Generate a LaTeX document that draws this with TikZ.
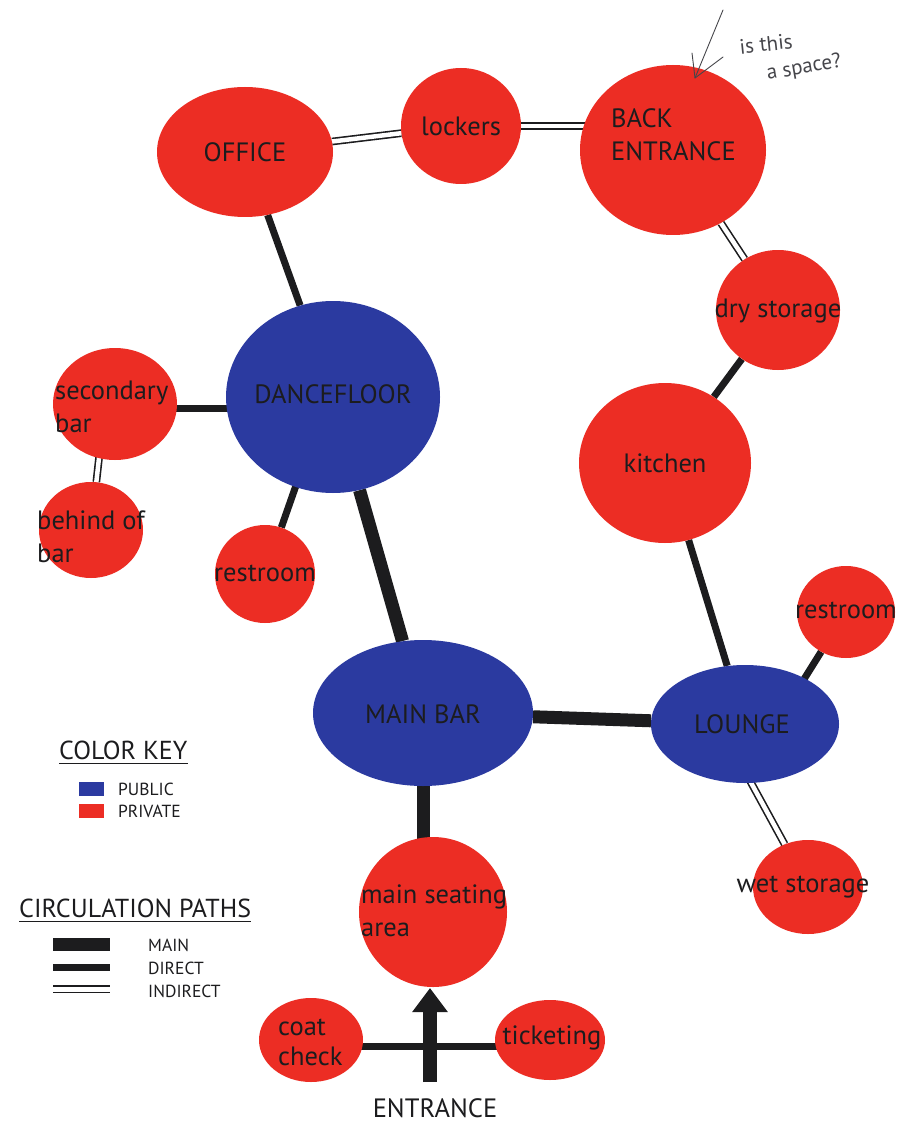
\documentclass[tikz,border=0pt]{standalone}
\usepackage{fontspec}
\setmainfont{PT Sans}
\usetikzlibrary{shapes.geometric,arrows.meta,calc}
\definecolor{pubblue}{RGB}{43,58,160}
\definecolor{privred}{RGB}{236,45,36}
\definecolor{ink}{RGB}{28,28,30}
\definecolor{pen}{RGB}{70,70,75}
\pgfdeclarelayer{bg}
\pgfsetlayers{bg,main}
\begin{document}
\begin{tikzpicture}[x=1pt,y=-1pt,
  room/.style={ellipse, inner sep=0pt, draw=none},
  pub/.style={room, fill=pubblue},
  priv/.style={room, fill=privred},
  lbl/.style={text=ink, font=\fontsize{26.5}{33}\selectfont, inner sep=0pt, align=left},
  keytxt/.style={text=ink, font=\fontsize{26}{30}\selectfont, inner sep=0pt, anchor=west},
  smalltxt/.style={text=ink, font=\fontsize{17.5}{20}\selectfont, inner sep=0pt, anchor=west},
  mainpath/.style={draw=ink, line width=13pt},
  directpath/.style={draw=ink, line width=7pt},
  indirectpath/.style={draw=ink, line width=1.6pt, double=white, double distance=4.5pt},
  penline/.style={draw=pen, line width=0.9pt, line cap=round, line join=round},
  pentxt/.style={text=pen, font=\fontsize{21}{22}\selectfont, inner sep=0pt}
]
\begin{pgfonlayer}{bg}
\fill[white] (0,0) rectangle (901,1123);
\end{pgfonlayer}
\useasboundingbox (0,0) rectangle (901,1123);

% rooms
\node[priv, minimum width=176pt, minimum height=130pt] (office) at (245,152) {};
\node[priv, minimum width=120pt, minimum height=116pt] (lockers) at (461,126) {};
\node[priv, minimum width=186pt, minimum height=170pt] (back) at (673,150) {};
\node[priv, minimum width=124pt, minimum height=120pt] (dry) at (778,310) {};
\node[pub, minimum width=214pt, minimum height=192pt] (dance) at (333,397) {};
\node[priv, minimum width=124pt, minimum height=112pt] (secbar) at (115,404) {};
\node[priv, minimum width=104pt, minimum height=96pt] (behind) at (91,530) {};
\node[priv, minimum width=100pt, minimum height=98pt] (restL) at (265,574) {};
\node[priv, minimum width=172pt, minimum height=160pt] (kitchen) at (665,463) {};
\node[priv, minimum width=98pt, minimum height=92pt] (restR) at (846,612) {};
\node[pub, minimum width=188pt, minimum height=118pt] (lounge) at (745,724) {};
\node[priv, minimum width=110pt, minimum height=94pt] (wet) at (808,887) {};
\node[pub, minimum width=220pt, minimum height=146pt] (mainbar) at (423,713) {};
\node[priv, minimum width=148pt, minimum height=150pt] (seating) at (433,912) {};
\node[priv, minimum width=104pt, minimum height=84pt] (coat) at (311,1040) {};
\node[priv, minimum width=110pt, minimum height=80pt] (ticket) at (550,1040) {};
\coordinate (entbottom) at (430,1082);
\coordinate (enttop) at (430,988);

% connectors
\begin{pgfonlayer}{bg}
\draw[indirectpath] (office) -- (lockers);
\draw[indirectpath] (lockers) -- (lockers -| back);
\draw[indirectpath] (back) -- (dry);
\draw[directpath] (office) -- (dance);
\draw[directpath] (dry) -- (kitchen);
\draw[directpath] ([yshift=-4pt]secbar.center) -- ([yshift=-4pt]secbar.center -| dance);
\draw[indirectpath] ([xshift=-10pt]secbar.center) -- (behind);
\draw[directpath] ([xshift=-6pt]dance.center) -- (restL);
\draw[mainpath] (dance) -- (mainbar);
\draw[directpath] (kitchen) -- (lounge);
\draw[mainpath] (mainbar) -- (lounge);
\draw[directpath] ([xshift=31pt]lounge.center) -- (restR);
\draw[indirectpath] ([xshift=-26pt]lounge.center) -- (wet);
\draw[mainpath] (mainbar) -- (mainbar |- seating);
\draw[directpath] ([yshift=-6pt]coat.center) -- ([yshift=-6pt]ticket.center);
\end{pgfonlayer}
\draw[draw=ink, line width=14pt, -{Triangle[width=34pt,length=24pt]}] (entbottom) -- (enttop);

% room labels
\node[lbl] (tOffice) at (245,152) {OFFICE};
\node[lbl] (tLockers) at (461,126) {lockers};
\node[lbl, anchor=west] (tBack) at (611,135) {BACK\\ENTRANCE};
\node[lbl] (tDry) at (778,311) {dry storage};
\node[lbl] (tDance) at (333,394) {DANCEFLOOR};
\node[lbl, anchor=west] (tSec) at (55,407) {secondary\\bar};
\node[lbl, anchor=west] (tBehind) at (37,537) {behind of\\bar};
\node[lbl] (tRestL) at (265,573) {restroom};
\node[lbl] (tKitchen) at (665,463) {kitchen};
\node[lbl, anchor=west] (tRestR) at (795,610) {restroom};
\node[lbl] (tLounge) at (742,724) {LOUNGE};
\node[lbl] (tWet) at (803,887) {wet storage};
\node[lbl] (tMainbar) at (423,714) {MAIN BAR};
\node[lbl, anchor=west] (tSeating) at (361,911) {main seating\\area};
\node[lbl, anchor=west, font=\fontsize{26.5}{30}\selectfont] (tCoat) at (278,1042) {coat\\check};
\node[lbl] (tTicket) at (552,1038) {ticketing};
\node[lbl] (tEntrance) at (435,1108) {ENTRANCE};

% legend
\node[keytxt] (keyTitle) at (59,750) {COLOR KEY};
\draw[draw=ink, line width=1.2pt] ([yshift=-4pt]keyTitle.south west) -- ([yshift=-4pt]keyTitle.south east);
\node[fill=pubblue, minimum width=25pt, minimum height=14pt, inner sep=0pt] (swPub) at (91.5,789) {};
\node[smalltxt] (tPub) at (118,789) {PUBLIC};
\node[fill=privred, minimum width=25pt, minimum height=14pt, inner sep=0pt] (swPriv) at (91.5,811) {};
\node[smalltxt] (tPriv) at (118,811) {PRIVATE};

\node[keytxt] (pathTitle) at (19,908) {CIRCULATION PATHS};
\draw[draw=ink, line width=1.2pt] ([yshift=-4pt]pathTitle.south west) -- ([yshift=-4pt]pathTitle.south east);
\coordinate (kMainA) at (53,944); \coordinate (kMainB) at (110,944);
\draw[draw=ink, line width=13pt] (kMainA) -- (kMainB);
\node[smalltxt] (tMain) at (148,945) {MAIN};
\coordinate (kDirA) at (53,967); \coordinate (kDirB) at (110,967);
\draw[draw=ink, line width=7pt] (kDirA) -- (kDirB);
\node[smalltxt] (tDirect) at (148,968) {DIRECT};
\coordinate (kIndA) at (53,989); \coordinate (kIndB) at (110,989);
\draw[indirectpath, line width=1.5pt, double distance=5pt] (kIndA) -- (kIndB);
\node[smalltxt] (tIndirect) at (148,991) {INDIRECT};

% handwritten note
\coordinate (penTop) at (723,10);
\coordinate (penTip) at (695,78);
\draw[penline] (penTop) -- (penTip);
\draw[penline] (692,53) -- (penTip) -- (723,57);
\node[pentxt, rotate=6] (note1) at (766,44) {is this};
\node[pentxt, rotate=10] (note2) at (804,68) {a space?};
\end{tikzpicture}
\end{document}
